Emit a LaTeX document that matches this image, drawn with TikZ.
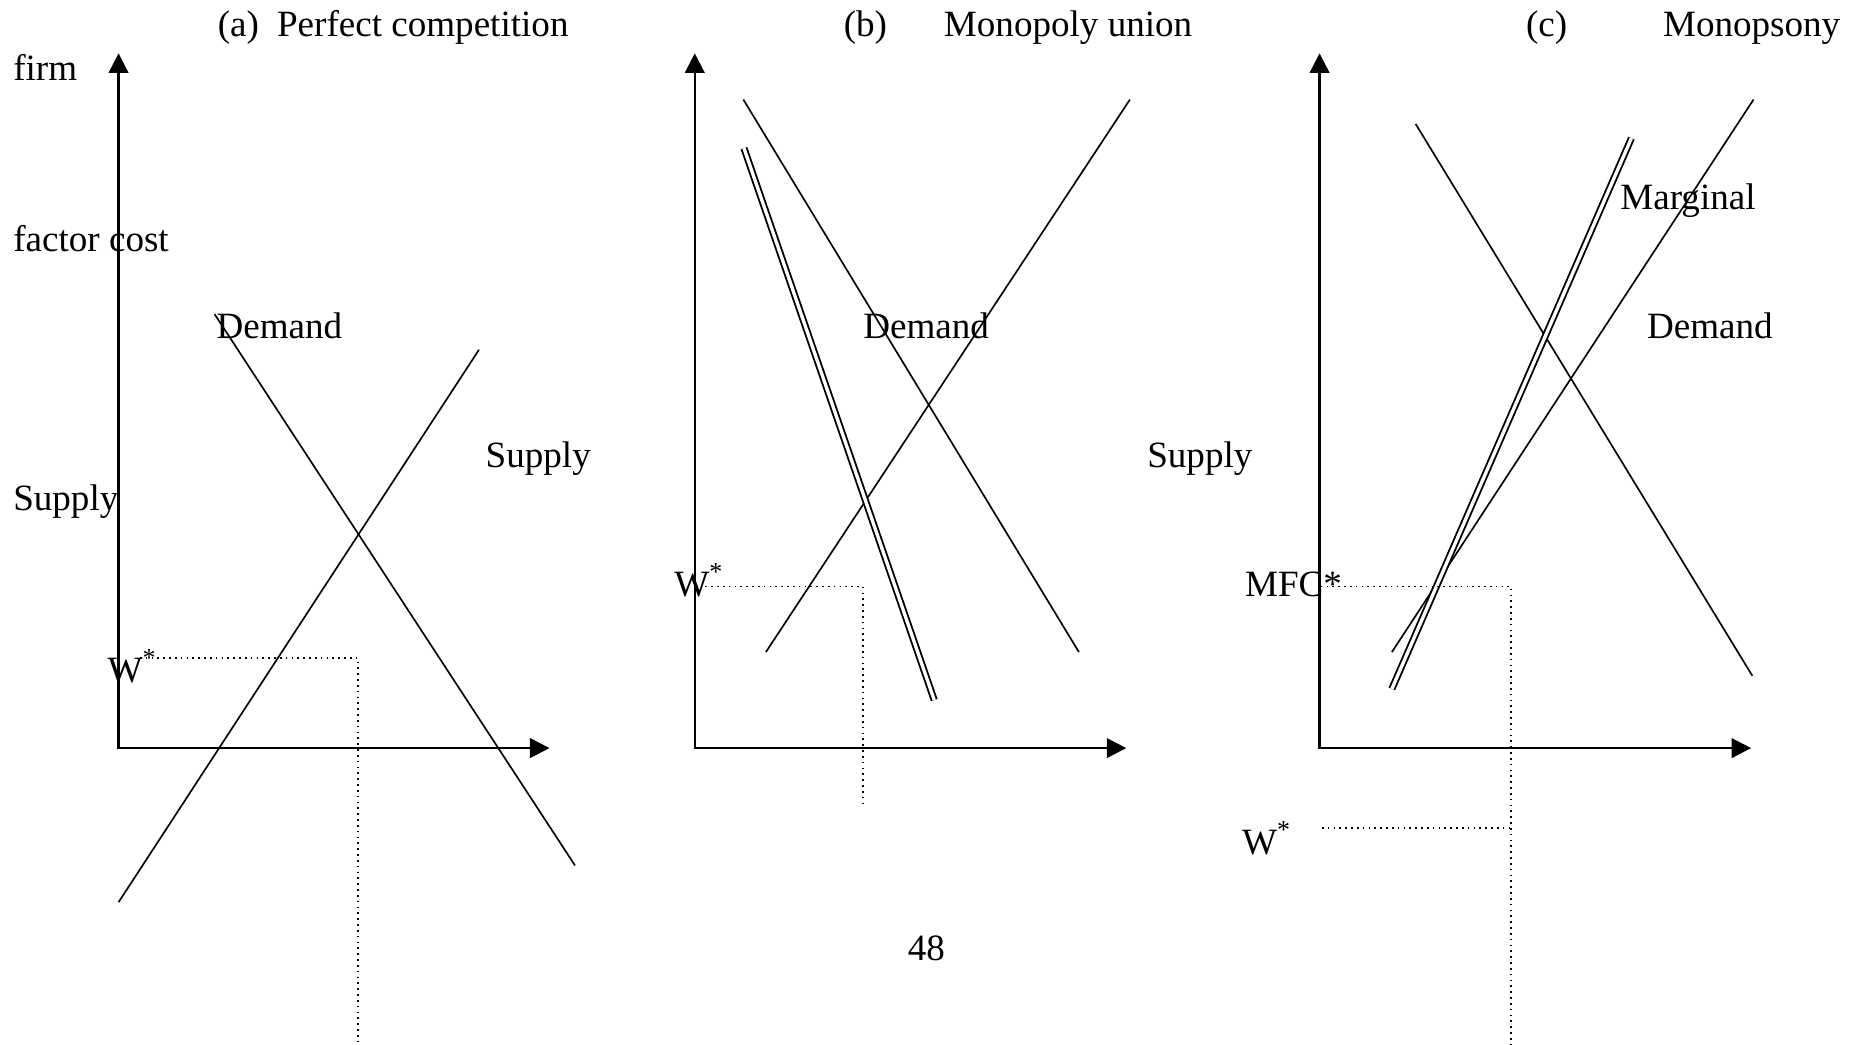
\documentclass[tikz,border=0pt]{standalone}
\usepackage{fontspec}
\setmainfont{Liberation Serif}
\usetikzlibrary{arrows.meta}
\tikzset{
  axis/.style={line width=0.55pt,{Triangle[length=0.165cm,width=0.165cm]}-{Triangle[length=0.165cm,width=0.165cm]}},
  curve/.style={line width=0.4pt},
  mcurve/.style={line width=0.45pt,double,double distance=0.8pt},
  guide/.style={line width=0.4pt,densely dotted},
  lbl/.style={anchor=base west,inner sep=0pt,font=\fontsize{8.9}{10.7}\selectfont}
}

\begin{document}
\begin{tikzpicture}
\useasboundingbox (0,0) rectangle (15.68,8.81);
\node (ta) [lbl] at (1.83,8.50) {(a)};
\node (tta) [lbl] at (2.33,8.50) {Perfect competition};
\node (tb) [lbl] at (7.11,8.50) {(b)};
\node (ttb) [lbl] at (7.955,8.50) {Monopoly union};
\node (tc) [lbl] at (12.865,8.50) {(c)};
\node (ttc) [lbl] at (14.02,8.50) {Monopsony};
\node (firm) [lbl] at (0.105,8.135) {firm};
\node (fc) [lbl] at (0.105,6.69) {factor cost};
\node (sl) [lbl] at (0.105,4.50) {Supply};
\node (n48) [lbl] at (7.65,0.707) {48};

\coordinate (oa) at (1.00,2.50);
\coordinate (ya) at (1.00,8.36);
\coordinate (xa) at (4.635,2.50);
\coordinate (da1) at (1.81,6.16);
\coordinate (da2) at (4.85,1.51);
\coordinate (sa1) at (1.00,1.20);
\coordinate (sa2) at (4.04,5.86);
\coordinate (ga1) at (1.18,3.26);
\coordinate (ga2) at (3.02,3.26);
\coordinate (ga3) at (3.02,0);
\node (dla) [lbl] at (1.82,5.955) {Demand};
\node (sla) [lbl] at (4.09,4.87) {Supply};
\node (wa) [lbl] at (0.90,3.05) {W\textsuperscript{*}};
\draw[axis] (ya)--(oa)--(xa);
\draw[curve] (da1)--(da2);\draw[curve] (sa1)--(sa2);
\draw[guide] (ga1)--(ga2)--(ga3);

\coordinate (ob) at (5.86,2.50);
\coordinate (yb) at (5.86,8.36);
\coordinate (xb) at (9.50,2.50);
\coordinate (db1) at (6.27,7.97);
\coordinate (db2) at (9.10,3.31);
\coordinate (sb1) at (6.46,3.31);
\coordinate (sb2) at (9.53,7.97);
\coordinate (mb1) at (6.275,7.56);
\coordinate (mb2) at (7.88,2.905);
\coordinate (gb1) at (5.95,3.863);
\coordinate (gb2) at (7.277,3.863);
\coordinate (gb3) at (7.277,2.033);
\node (dlb) [lbl] at (7.275,5.955) {Demand};
\node (slb) [lbl] at (9.67,4.87) {Supply};
\node (wb) [lbl] at (5.68,3.776) {W\textsuperscript{*}};
\draw[axis] (yb)--(ob)--(xb);
\draw[curve] (db1)--(db2);\draw[curve] (sb1)--(sb2);
\draw[mcurve] (mb1)--(mb2);
\draw[guide] (gb1)--(gb2)--(gb3);

\coordinate (oc) at (11.13,2.50);
\coordinate (yc) at (11.13,8.36);
\coordinate (xc) at (14.77,2.50);
\coordinate (dc1) at (11.94,7.765);
\coordinate (dc2) at (14.78,3.11);
\coordinate (sc1) at (11.74,3.31);
\coordinate (sc2) at (14.79,7.97);
\coordinate (mc1) at (11.74,3.00);
\coordinate (mc2) at (13.76,7.644);
\coordinate (gc1) at (11.14,3.863);
\coordinate (gc2) at (12.745,3.863);
\coordinate (gc3) at (12.745,0);
\coordinate (hc1) at (11.15,1.825);
\coordinate (hc2) at (12.745,1.825);
\node (mlc) [lbl] at (13.66,7.045) {Marginal};
\node (dlc) [lbl] at (13.885,5.958) {Demand};
\node (mfc) [lbl] at (10.495,3.776) {MFC*};
\node (wc) [lbl] at (10.47,1.606) {W\textsuperscript{*}};
\draw[axis] (yc)--(oc)--(xc);
\draw[curve] (dc1)--(dc2);\draw[curve] (sc1)--(sc2);
\draw[mcurve] (mc1)--(mc2);
\draw[guide] (gc1)--(gc2)--(gc3);\draw[guide] (hc1)--(hc2);
\end{tikzpicture}
\end{document}
